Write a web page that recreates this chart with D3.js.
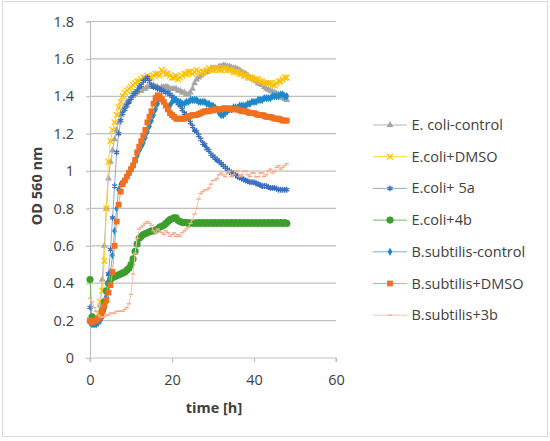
<!DOCTYPE html>
<html>
<head>
<meta charset="utf-8">
<script src="https://cdn.jsdelivr.net/npm/d3@7"></script>
<style>
  body { margin: 0; background: #fff; }
  text { font-family: "Open Sans", "Noto Sans", sans-serif; fill: #404040; }
</style>
</head>
<body>
<svg id="main-chart"></svg>
<script>
const hours = [0,0.5,1,1.5,2,2.5,3,3.5,4,4.5,5,5.5,6,6.5,7,7.5,8,8.5,9,9.5,10,10.5,11,11.5,12,
  12.5,13,13.5,14,14.5,15,15.5,16,16.5,17,17.5,18,18.5,19,19.5,20,20.5,21,21.5,22,22.5,23,23.5,24,
  24.5,25,25.5,26,26.5,27,27.5,28,28.5,29,29.5,30,30.5,31,31.5,32,32.5,33,33.5,34,34.5,35,35.5,36,
  36.5,37,37.5,38,38.5,39,39.5,40,40.5,41,41.5,42,42.5,43,43.5,44,44.5,45,45.5,46,46.5,47,47.5,48];

const ecoliControl = [0.2,0.19,0.19,0.2,0.22,0.28,0.42,0.6,0.8,0.96,1.05,1.11,1.17,1.22,1.26,1.3,1.33,1.35,1.37,1.38,1.39,1.4,1.41,1.42,1.43,
  1.43,1.44,1.44,1.45,1.45,1.45,1.46,1.45,1.45,1.44,1.45,1.45,1.45,1.45,1.44,1.44,1.44,1.44,1.43,1.43,1.42,1.42,1.41,1.41,
  1.42,1.44,1.47,1.49,1.5,1.51,1.52,1.53,1.53,1.54,1.55,1.55,1.55,1.55,1.56,1.56,1.565,1.565,1.56,1.56,1.555,1.55,1.55,1.545,
  1.54,1.53,1.525,1.52,1.51,1.5,1.495,1.49,1.48,1.47,1.465,1.46,1.45,1.44,1.435,1.43,1.425,1.42,1.415,1.41,1.4,1.39,1.385,1.38];

const ecoliDmso = [0.2,0.2,0.2,0.21,0.24,0.3,0.36,0.52,0.8,1.05,1.16,1.22,1.26,1.3,1.34,1.37,1.4,1.42,1.43,1.44,1.45,1.46,1.47,1.48,1.48,
  1.49,1.5,1.5,1.51,1.5,1.5,1.51,1.52,1.52,1.51,1.54,1.53,1.52,1.52,1.51,1.5,1.5,1.51,1.49,1.5,1.51,1.52,1.52,1.53,
  1.53,1.52,1.53,1.54,1.53,1.52,1.53,1.53,1.54,1.55,1.54,1.54,1.55,1.55,1.54,1.54,1.55,1.55,1.54,1.54,1.54,1.53,1.53,1.53,
  1.52,1.52,1.51,1.51,1.5,1.5,1.5,1.49,1.49,1.49,1.48,1.48,1.47,1.47,1.47,1.47,1.46,1.46,1.47,1.48,1.48,1.49,1.5,1.5];

const ecoli5a = [0.27,0.19,0.18,0.18,0.19,0.21,0.26,0.3,0.35,0.45,0.58,0.75,0.92,1.1,1.2,1.27,1.31,1.33,1.35,1.37,1.39,1.41,1.42,1.43,1.45,
  1.46,1.48,1.49,1.5,1.48,1.46,1.45,1.45,1.44,1.44,1.43,1.43,1.42,1.42,1.41,1.4,1.39,1.38,1.36,1.35,1.33,1.31,1.3,1.28,
  1.26,1.24,1.22,1.21,1.19,1.17,1.15,1.14,1.12,1.11,1.09,1.08,1.07,1.06,1.05,1.04,1.03,1.02,1.01,1.0,0.99,0.99,0.98,0.97,
  0.965,0.96,0.955,0.95,0.945,0.94,0.94,0.94,0.935,0.93,0.925,0.92,0.92,0.92,0.915,0.91,0.91,0.91,0.905,0.9,0.9,0.9,0.9,0.9];

const ecoli4b = [0.42,0.22,0.2,0.2,0.21,0.22,0.25,0.3,0.36,0.4,0.42,0.43,0.435,0.44,0.445,0.45,0.455,0.46,0.47,0.48,0.5,0.53,0.57,0.61,0.64,
  0.65,0.66,0.665,0.67,0.675,0.68,0.68,0.685,0.69,0.7,0.705,0.71,0.72,0.73,0.74,0.745,0.75,0.75,0.735,0.73,0.725,0.725,0.725,0.72,
  0.725,0.72,0.725,0.72,0.725,0.72,0.725,0.72,0.725,0.72,0.725,0.72,0.725,0.72,0.725,0.72,0.725,0.72,0.725,0.72,0.725,0.72,0.725,0.72,
  0.725,0.72,0.725,0.72,0.725,0.72,0.725,0.72,0.725,0.72,0.725,0.72,0.725,0.72,0.725,0.72,0.725,0.72,0.725,0.72,0.725,0.72,0.725,0.72];

const bsubControl = [0.19,0.18,0.18,0.18,0.19,0.2,0.22,0.26,0.33,0.4,0.46,0.55,0.68,0.8,0.9,0.93,0.94,0.95,0.97,0.99,1.01,1.03,1.05,1.08,1.11,
  1.13,1.15,1.18,1.21,1.24,1.27,1.3,1.33,1.36,1.39,1.38,1.37,1.35,1.34,1.35,1.37,1.38,1.38,1.37,1.37,1.36,1.36,1.37,1.37,
  1.38,1.38,1.38,1.38,1.37,1.37,1.37,1.37,1.36,1.36,1.35,1.35,1.34,1.33,1.31,1.3,1.3,1.31,1.32,1.33,1.33,1.34,1.34,1.34,
  1.35,1.35,1.35,1.35,1.36,1.36,1.37,1.37,1.37,1.38,1.38,1.38,1.39,1.39,1.39,1.39,1.4,1.4,1.4,1.4,1.41,1.41,1.4,1.4];

const bsubDmso = [0.2,0.19,0.2,0.2,0.21,0.22,0.25,0.28,0.31,0.35,0.39,0.46,0.6,0.73,0.82,0.89,0.93,0.95,0.97,0.99,1.01,1.03,1.06,1.1,1.13,
  1.16,1.19,1.22,1.26,1.29,1.32,1.36,1.39,1.405,1.4,1.385,1.37,1.35,1.33,1.31,1.3,1.29,1.28,1.28,1.28,1.28,1.28,1.285,1.29,
  1.295,1.3,1.3,1.3,1.305,1.31,1.315,1.32,1.32,1.32,1.325,1.325,1.33,1.33,1.33,1.33,1.335,1.335,1.335,1.335,1.33,1.33,1.33,1.33,
  1.325,1.32,1.32,1.32,1.315,1.31,1.31,1.31,1.305,1.3,1.3,1.3,1.295,1.29,1.29,1.29,1.285,1.28,1.28,1.28,1.275,1.27,1.27,1.27];

const bsub3b = [0.32,0.3,0.27,0.25,0.23,0.22,0.22,0.22,0.23,0.23,0.24,0.24,0.24,0.25,0.25,0.25,0.25,0.26,0.27,0.29,0.34,0.45,0.56,0.64,0.69,
  0.7,0.71,0.72,0.73,0.72,0.71,0.68,0.67,0.69,0.68,0.67,0.66,0.68,0.67,0.65,0.66,0.67,0.65,0.66,0.65,0.67,0.68,0.69,0.7,
  0.72,0.74,0.77,0.8,0.85,0.88,0.89,0.9,0.9,0.91,0.93,0.95,0.95,0.96,0.98,0.99,0.98,0.97,0.99,1.0,0.97,0.98,1.0,1.0,
  0.97,0.98,1.0,1.0,0.98,0.97,0.99,0.99,0.97,0.97,0.99,0.99,0.97,0.98,1.0,1.01,0.99,1.0,1.02,1.03,1.01,1.02,1.03,1.04];

const seriesNames = ["E. coli-control", "E.coli+DMSO", "E.coli+ 5a", "E.coli+4b",
  "B.subtilis-control", "B.subtilis+DMSO", "B.subtilis+3b"];
const seriesValues = [ecoliControl, ecoliDmso, ecoli5a, ecoli4b, bsubControl, bsubDmso, bsub3b];
const seriesColors = ["#A5A5A5", "#FFC000", "#3A6EC0", "#3C9E2C", "#1F88C8", "#F07020", "#F6A988"];
const lineColors = ["#B5B5B5", "#FFCF40", "#8AAAD8", "#6DB85E", "#6FB0DA", "#F4A373", "#F8C4AE"];

const yTicks = [0, 0.2, 0.4, 0.6, 0.8, 1, 1.2, 1.4, 1.6, 1.8];
const xTicks = [0, 20, 40, 60];

const width = 550;
const height = 441;
const margin = {left: 90, right: 214, top: 21.5, bottom: 83};

const svg = d3.select("#main-chart")
    .attr("width", width)
    .attr("height", height);

svg.append("rect")
    .attr("x", 2.5).attr("y", 1.5)
    .attr("width", 545).attr("height", 435)
    .attr("fill", "#fff")
    .attr("stroke", "#D9D9D9");

const x = d3.scaleLinear().domain([0, 60]).range([margin.left, width - margin.right]);
const y = d3.scaleLinear().domain([0, 1.8]).range([height - margin.bottom, margin.top]);

svg.append("g")
    .selectAll("line")
    .data(yTicks.slice(1))
    .join("line")
      .attr("x1", x(0)).attr("x2", x(60))
      .attr("y1", d => y(d)).attr("y2", d => y(d))
      .attr("stroke", "#BFBFBF")
      .attr("stroke-width", 1.2);

const xAxis = svg.append("g")
    .attr("transform", `translate(0,${y(0)})`)
    .call(d3.axisBottom(x).tickValues(xTicks).tickSize(4).tickPadding(13).tickFormat(d3.format("d")));

const yAxis = svg.append("g")
    .attr("transform", `translate(${x(0)},0)`)
    .call(d3.axisLeft(y).tickValues(yTicks).tickSize(4).tickPadding(12).tickFormat(d => d3.format("")(d)));

[xAxis, yAxis].forEach(a => {
  a.select(".domain").attr("stroke", "#BFBFBF").attr("stroke-width", 1.2);
  a.selectAll(".tick line").attr("stroke", "#BFBFBF").attr("stroke-width", 1.2);
  a.selectAll(".tick text").attr("font-size", 14.5).attr("fill", "#404040")
    .attr("font-family", "'Open Sans', sans-serif");
});
xAxis.select(".domain").attr("d", `M${x(0)},4V0H${x(60)}V4`);

svg.append("text")
    .attr("x", x(30) + 1).attr("y", 413)
    .attr("text-anchor", "middle")
    .attr("font-size", 14.5).attr("font-weight", "bold")
    .text("time [h]");

svg.append("text")
    .attr("transform", `translate(42,186) rotate(-90)`)
    .attr("text-anchor", "middle")
    .attr("font-size", 14.5).attr("font-weight", "bold")
    .text("OD 560 nm");

// marker shapes per series
const markers = [
  {type: d3.symbolTriangle, size: 20, fill: true},
  {type: d3.symbolTimes, size: 24, fill: false},
  {type: d3.symbolAsterisk, size: 24, fill: false},
  {type: d3.symbolCircle, size: 40, fill: true},
  {type: d3.symbolDiamond, size: 20, fill: true},
  {type: d3.symbolSquare, size: 34, fill: true},
  {type: null, size: 0, fill: false}
];

const drawMarker = (sel, i) => {
  const m = markers[i];
  if (m.type) {
    sel.attr("d", d3.symbol().type(m.type).size(m.size)())
      .attr("fill", m.fill ? seriesColors[i] : "none")
      .attr("stroke", m.fill ? "none" : seriesColors[i])
      .attr("stroke-width", 1.3);
  } else {
    sel.attr("d", "M-2.2,0H2.2")
      .attr("fill", "none")
      .attr("stroke", seriesColors[i])
      .attr("stroke-width", 1.3);
  }
};

const line = d3.line().x(d => x(d[0])).y(d => y(d[1]));

const plot = svg.append("g");
seriesValues.forEach((vals, i) => {
  const pts = hours.map((h, k) => [h, vals[k]]);
  const g = plot.append("g");
  g.append("path")
      .datum(pts)
      .attr("d", line)
      .attr("fill", "none")
      .attr("stroke", lineColors[i])
      .attr("stroke-width", 1);
  g.selectAll("path.pt")
    .data(pts)
    .join("path")
      .attr("class", "pt")
      .attr("transform", d => `translate(${x(d[0])},${y(d[1])})`)
      .each(function() { drawMarker(d3.select(this), i); });
});

const legend = svg.append("g");
const item = legend.selectAll("g")
    .data(seriesNames)
    .join("g")
      .attr("transform", (d, i) => `translate(373,${125 + i * 31.7})`);

item.append("line")
    .attr("x1", 0).attr("x2", 34)
    .attr("stroke", (d, i) => lineColors[i])
    .attr("stroke-width", 1);

item.append("path")
    .attr("transform", "translate(17,0)")
    .each(function(d, i) { drawMarker(d3.select(this), i); });

item.append("text")
    .attr("x", 38.5).attr("dy", "0.35em")
    .attr("font-size", 14.5)
    .text(d => d);
</script>
</body>
</html>
